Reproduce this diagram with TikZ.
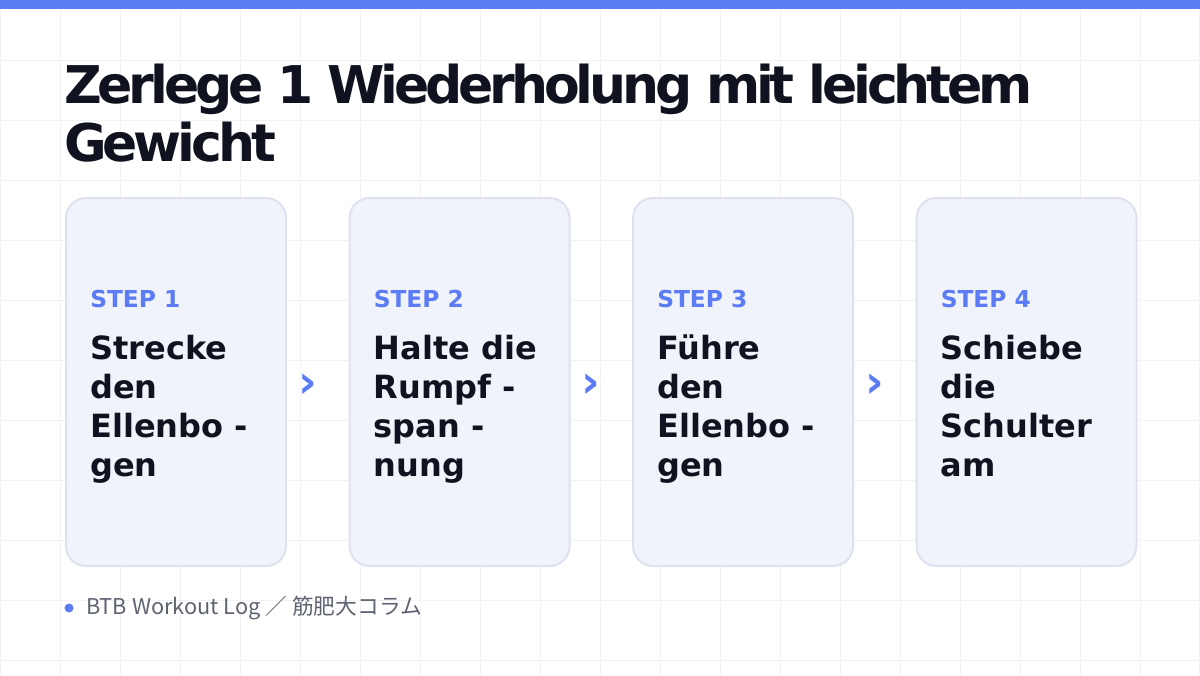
\documentclass[tikz,border=0pt]{standalone}
\usepackage{fontspec}
\setmainfont{DejaVu Sans}
\newfontfamily\titlefont[LetterSpace=-8]{DejaVu Sans}
\newfontfamily\cjk{Noto Sans CJK JP}
\usetikzlibrary{positioning,calc}

\definecolor{accent}{HTML}{5B7CF5}
\definecolor{ink}{HTML}{10131F}
\definecolor{cardfill}{HTML}{F1F3FB}
\definecolor{cardline}{HTML}{DEE2EF}
\definecolor{gridcol}{HTML}{F2F2F5}
\definecolor{muted}{HTML}{5E6370}

\tikzset{
  card/.style={draw=cardline, line width=1.5pt, fill=cardfill, rounded corners=15pt,
    minimum width=165pt, minimum height=276pt, inner sep=0pt},
  steplabel/.style={anchor=base west, inner sep=0pt, text=accent,
    font=\fontsize{17.5}{20}\selectfont\bfseries},
  steptext/.style={anchor=base west, inner sep=0pt, text=ink, align=left,
    font=\fontsize{24}{29.25}\selectfont\bfseries},
  chevron/.style={text=accent, inner sep=0pt, font=\fontsize{34}{34}\selectfont\bfseries}
}

\begin{document}
\begin{tikzpicture}[x=0.75pt, y=-0.75pt]
  \useasboundingbox (0,0) rectangle (1200,675);
  \fill[white] (0,0) rectangle (1200,675);

  % faint background grid
  \draw[gridcol, line width=0.75pt, step=45pt] (0,0) grid (1200,675);

  % top bar
  \fill[accent] (0,0) rectangle (1200,9);

  % title (anchored on the baseline of its last line)
  \node[anchor=base west, inner sep=0pt, text=ink, align=left,
    font=\titlefont\fontsize{39}{43.5}\selectfont\bfseries] (title) at (64,161)
    {Zerlege 1 Wiederholung mit leichtem\\Gewicht};

  % cards
  \foreach \i/\x/\txt in {1/65/{Strecke\\den\\Ellenbo -\\gen},
                          2/348.5/{Halte die\\Rumpf -\\span -\\nung},
                          3/632/{Führe\\den\\Ellenbo -\\gen},
                          4/915.5/{Schiebe\\die\\Schulter\\am}}{
    \node[card, anchor=north west] (card\i) at (\x,197) {};
    \node[steplabel] (step\i) at (\x+25,307) {STEP \i};
    \node[steptext] (text\i) at (\x+25,476) {\txt};
  }

  % chevrons between cards
  \foreach \a/\b in {1/2,2/3,3/4}
    \node[chevron] (arrow\a) at ($(card\a.east)!0.5!(card\b.west)+(-10,3.5)$) {›};

  % footer
  \fill[accent] (69,608) circle (4.5) coordinate (dot);
  \node[anchor=west, inner sep=0pt, text=muted, font=\cjk\fontsize{16.3}{16.3}\selectfont]
    (footer) at (86,608) {BTB Workout Log ／ 筋肥大コラム};
\end{tikzpicture}
\end{document}
